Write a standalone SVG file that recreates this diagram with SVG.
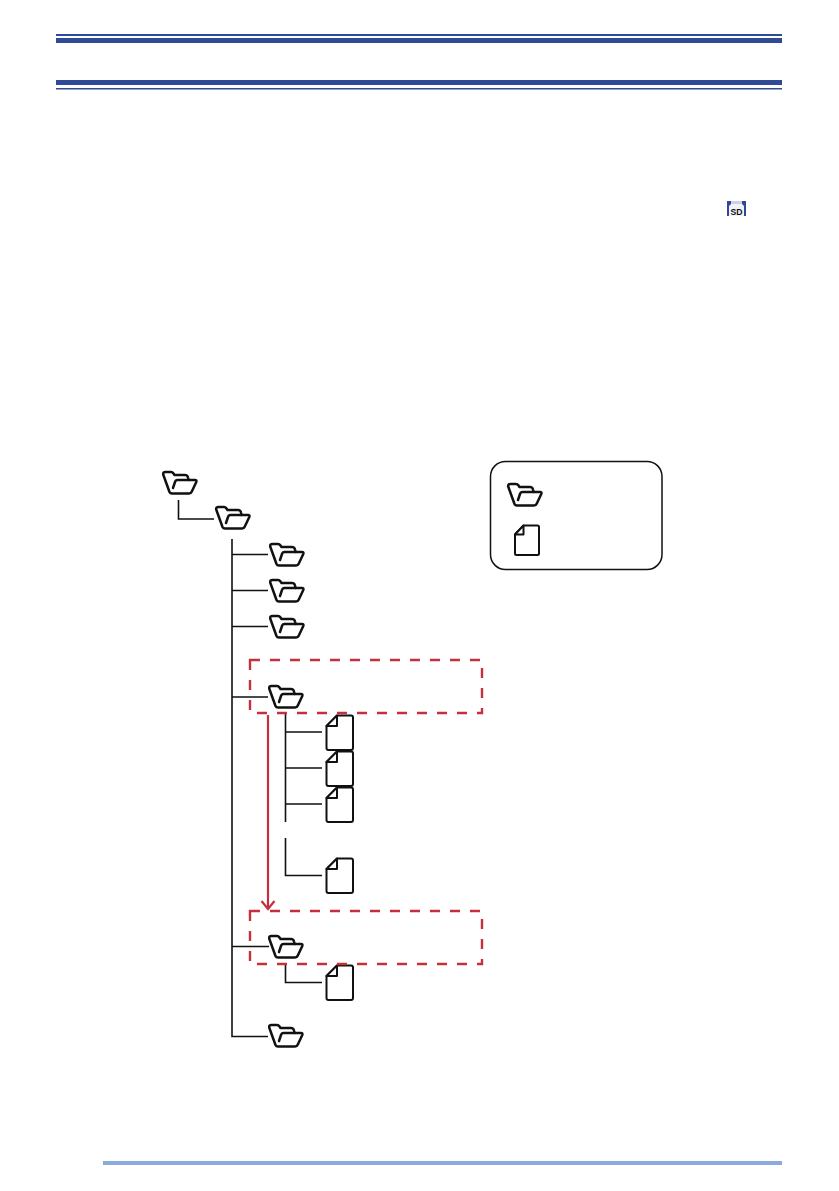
<svg xmlns="http://www.w3.org/2000/svg" width="839" height="1191" viewBox="0 0 839 1191">
<style>
.band{fill:#2f4a96}
.conn{fill:none;stroke:#111;stroke-width:1.6}
.red{fill:none;stroke:#c5303f;stroke-width:2.200}
.dash{fill:none;stroke:#c5303f;stroke-width:2.400;stroke-dasharray:10 10}
.ico{fill:none;stroke:#111;stroke-width:2.500;stroke-linejoin:round;stroke-linecap:round}
.doc{fill:#fff;stroke:#111;stroke-width:2;stroke-linejoin:round}
</style>
<defs>
<g id="folder">
<path class="ico" d="M7.500 21 L1.200 3.500 Q0.800 1 3.500 1 L9 1 Q10.500 1 11.500 2.500 L12.500 4 L23 4 Q25.500 4 26 6.500 L26.600 9 L33 9 Q35 9 34.300 11 L29.800 20.500 Q29 22.500 27 22.500 L10 22.500 Q8.200 22.500 7.500 21 Z"/>
<path class="ico" d="M11 17 L13 11 Q13.600 9 15.500 9 L26.600 9"/>
</g>
<g id="file">
<path class="doc" d="M11 0.500 L25 0.500 Q27 0.500 27 2.500 L27 33 Q27 35 25 35 L2.500 35 Q0.500 35 0.500 33 L0.500 11 Z"/>
<path class="doc" d="M0.500 11 L11 0.500 L11 11 Z"/>
</g>
<g id="file-small">
<path class="doc" d="M9 0.500 L23 0.500 Q24.500 0.500 24.500 2 L24.500 28.500 Q24.500 30 23 30 L2 30 Q0.500 30 0.500 28.500 L0.500 9.500 Z"/>
<path class="doc" d="M0.500 9.500 L9 0.500 L9 9.500 Z"/>
</g>
</defs>

<g id="header-rules">
<rect class="band" x="56" y="34" width="726" height="2"/>
<rect class="band" x="56" y="38" width="726" height="5"/>
<rect class="band" x="56" y="80" width="726" height="5"/>
<rect class="band" x="56" y="88" width="726" height="1.500"/>
</g>

<g id="sd-icon">
<rect x="727" y="201" width="19" height="15" fill="#33479a"/>
<path d="M731 201 H742 V204 L744 206 V216 H729 V206 L731 204 Z" fill="#f2f3f8"/>
<rect x="731" y="201" width="11" height="3" fill="#c9d2ea"/>
<text x="736.500" y="215" font-family="'Liberation Sans',sans-serif" font-size="9" font-weight="700" fill="#111" text-anchor="middle" textLength="12" lengthAdjust="spacingAndGlyphs">SD</text>
</g>

<g id="connectors">
<path class="conn" d="M178.500 500 V519 H214"/>
<path class="conn" d="M232 539 V1036.500 H268"/>
<path class="conn" d="M232 554.500 H268 M232 590.500 H268 M232 626.500 H268 M232 697 H268 M232 946.500 H269"/>
<path class="conn" d="M285.500 714 V822 M285.500 732 H322 M285.500 768 H322 M285.500 804 H322"/>
<path class="conn" d="M285.500 838 V875.500 H322"/>
<path class="conn" d="M285.500 965 V982.500 H322"/>
<path class="red" d="M268 715 V909 M261.500 901 L268 909 L274.500 901"/>
</g>

<g id="folder-root"><use href="#folder" x="162" y="471"/></g>
<g id="folder-main"><use href="#folder" x="215" y="506"/></g>
<g id="folder-a"><use href="#folder" x="269" y="543"/></g>
<g id="folder-b"><use href="#folder" x="269" y="579"/></g>
<g id="folder-c"><use href="#folder" x="269" y="615"/></g>
<g id="folder-d"><use href="#folder" x="268" y="685"/></g>
<g id="folder-e"><use href="#folder" x="268" y="935"/></g>
<g id="folder-f"><use href="#folder" x="268" y="1024"/></g>

<g id="file-1"><use href="#file" x="326" y="715"/></g>
<g id="file-2"><use href="#file" x="326" y="751"/></g>
<g id="file-3"><use href="#file" x="326" y="787"/></g>
<g id="file-4"><use href="#file" x="326" y="858"/></g>
<g id="file-5"><use href="#file" x="326" y="965"/></g>

<g id="highlight-1"><rect class="dash" x="250" y="660" width="232" height="53"/></g>
<g id="highlight-2"><rect class="dash" x="250" y="911" width="232" height="53"/></g>

<g id="legend">
<rect x="490.500" y="461.500" width="171.500" height="108" rx="15" fill="#fff" stroke="#111" stroke-width="1.500"/>
<use href="#folder" x="507" y="483"/>
<use href="#file-small" x="514.500" y="525"/>
</g>

<g id="footer-rule"><rect x="103" y="1161" width="679" height="4" fill="#8aaadb"/></g>
</svg>
